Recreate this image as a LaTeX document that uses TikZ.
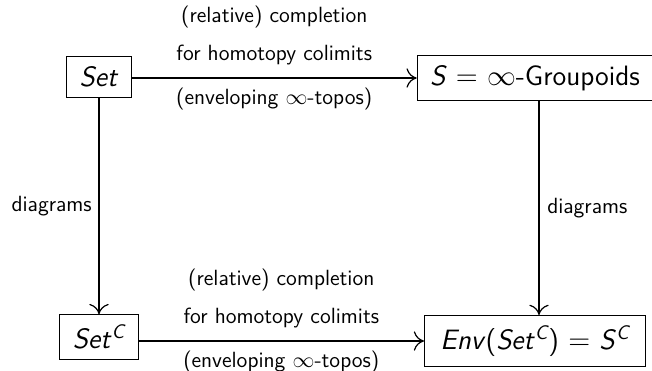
\documentclass[tikz,border=0pt]{standalone}
\usepackage{amsmath,amssymb}
\usepackage{tikz}
\usetikzlibrary{arrows.meta,positioning,calc}
\renewcommand{\familydefault}{\sfdefault}
\newcommand{\vr}[1]{\textit{#1}}

\begin{document}
\begin{tikzpicture}[
  x=0.5pt, y=-0.5pt,
  obj/.style={draw, font=\fontsize{14}{17}\selectfont, inner xsep=6.5pt, inner ysep=5pt},
  arrow/.style={-{To[length=1.8mm,width=3.4mm]}, line width=0.6pt},
  lab/.style={font=\fontsize{11}{13}\selectfont, align=center}
]
\useasboundingbox (0,0) rectangle (652,370);
% objects
\node[obj] (set) at (99,77) {\vr{Set}};
\node[obj] (grp) at (535,78) {\vr{S} $=$ $\infty$-Groupoids};
\node[obj] (setc) at (99,337) {\vr{Set}$^{\vr{C}}$};
\node[obj, inner xsep=8pt] (env) at (535,341) {\vr{Env}(\vr{Set}$^{\vr{C}}$) $=$ \vr{S}$^{\vr{C}}$};
% completion arrows
\draw[arrow] (set.east |- grp.west) -- node[lab, above=3pt] (top1) {(relative) completion\\[6pt]for homotopy colimits}
  node[lab, below=1.5pt] (top2) {(enveloping $\infty$-topos)} (grp.west);
\draw[arrow] (setc.east |- env.west) -- node[lab, above=3pt] (bot1) {(relative) completion\\[6pt]for homotopy colimits}
  node[lab, below=1.5pt] (bot2) {(enveloping $\infty$-topos)} (env.west);
% diagram arrows
\draw[arrow] (set) -- node[lab, left=0pt] (dl) {diagrams} (setc);
\draw[arrow] ([xshift=2pt]grp.south) -- node[lab, right=0.5pt] (dr) {diagrams} ([xshift=2pt]env.north);
\end{tikzpicture}
\end{document}
